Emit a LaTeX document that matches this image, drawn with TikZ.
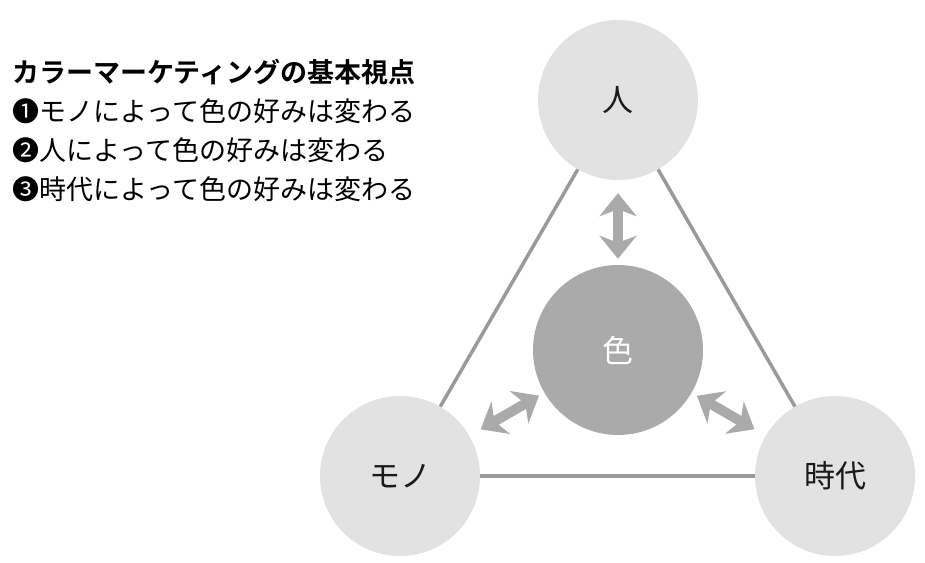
\documentclass[tikz,border=0pt]{standalone}
\usepackage{fontspec}
\setmainfont{Noto Sans CJK JP}[BoldFont={Noto Sans CJK JP Bold}]
\usetikzlibrary{arrows.meta}
\definecolor{outerfill}{HTML}{E2E2E2}
\definecolor{innerfill}{HTML}{AAAAAA}
\definecolor{edgegray}{HTML}{9A9A9A}
\definecolor{arrowgray}{HTML}{AAAAAA}
\definecolor{ink}{HTML}{1A1A1A}
\begin{document}
\begin{tikzpicture}[x=1pt,y=-1pt,
  outerc/.style={circle, fill=outerfill, minimum size=160pt, inner sep=0pt,
    font=\fontsize{31}{36}\selectfont, text=ink},
  innerc/.style={circle, fill=innerfill, minimum size=170pt, inner sep=0pt,
    font=\fontsize{31}{36}\selectfont, text=white},
  edgeline/.style={draw=edgegray, line width=3.5pt},
  dblarrow/.style={draw=arrowgray, line width=10pt,
    {Stealth[length=23pt,width=37pt,inset=7pt]}-{Stealth[length=23pt,width=37pt,inset=7pt]}},
  textline/.style={anchor=base west, inner sep=0pt,
    font=\fontsize{27}{32}\selectfont, text=black}]
\useasboundingbox (0,0) rectangle (925,562);
\fill[white] (0,0) rectangle (925,562);
% nodes
\node[outerc] (T) at (618,100) {人};
\node[outerc] (L) at (400,476) {モノ};
\node[outerc] (R) at (835,476) {時代};
\node[innerc] (C) at (618,350) {色};
% triangle edges
\draw[edgeline] (T) -- (L);
\draw[edgeline] (T) -- (R);
\draw[edgeline] (L) -- (R);
% double arrows
\draw[dblarrow, shorten <=6pt, shorten >=13pt] (C) -- (T);
\draw[dblarrow, shorten <=6pt, shorten >=13pt] (C) -- (L);
\draw[dblarrow, shorten <=6pt, shorten >=13pt] (C) -- (R);
% text block
\node[textline, font=\fontsize{27}{32}\selectfont\bfseries] (title) at (12,82) {カラーマーケティングの基本視点};
\node[textline] (p1) at (12,121) {❶モノによって色の好みは変わる};
\node[textline] (p2) at (12,160) {❷人によって色の好みは変わる};
\node[textline] (p3) at (12,199) {❸時代によって色の好みは変わる};
\end{tikzpicture}
\end{document}
